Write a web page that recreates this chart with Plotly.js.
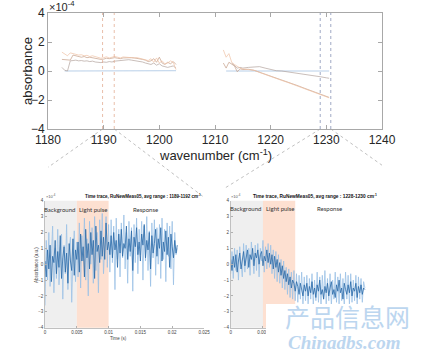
<!DOCTYPE html>
<html>
<head>
<meta charset="utf-8">
<script src="https://cdn.plot.ly/plotly-3.0.1.min.js"></script>
<style>html,body{margin:0;padding:0;background:#fff;}#chart{width:431px;height:353px;}</style>
</head>
<body>
<div id="chart"></div>
<script>
// ---------- top spectrum data (absorbance, units of 1e-4) ----------
const wavenumber = [1182.5,1183,1183.5,1184,1184.5,1185,1185.5,1186,1186.5,1187,1187.5,1188,1188.5,1189,1189.5,1190,1190.5,1191,1191.5,1192,1192.5,1193,1193.5,1194,1194.5,1195,1195.5,1196,1196.5,1197,1197.5,1198,1198.5,1199,1199.5,1200,1200.5,1201,1201.5,1202,1202.5,1203,
  1207,
  1211.5,1212,1212.5,1213,1213.5,1214,1214.5,1215,1216,1217,1218,1219,1220,1221,1222,1223,1224,1225,1226,1227,1228,1229,1230,1230.5];

const specOrange = [1.3,1.15,1.05,1.25,1.2,1.15,1.1,1.12,1.05,1.08,1.0,1.05,0.98,0.95,0.88,0.92,0.98,0.9,0.95,1.0,0.95,0.9,0.97,0.95,0.92,0.95,0.9,0.92,0.88,0.85,0.78,0.72,0.85,0.6,0.9,0.55,0.7,0.5,0.55,0.7,0.6,0.1,
  null,
  1.45,0.95,1.2,0.6,0.45,0.3,0.2,0.15,0.1,0.05,-0.1,-0.25,-0.4,-0.52,-0.65,-0.78,-0.92,-1.05,-1.2,-1.35,-1.5,-1.62,-1.78,-1.85];

const specBrown = [0.8,0.8,0.8,0.75,1.1,1.05,1.0,0.95,1.0,0.92,0.95,0.9,0.88,0.85,0.8,0.82,0.88,0.85,0.9,0.92,0.88,0.85,0.9,0.92,0.95,0.92,0.9,0.88,0.85,0.8,0.75,0.65,0.7,0.85,0.6,0.95,0.55,0.45,0.6,0.5,0.65,0.45,
  null,
  0.55,0.2,0.6,0.5,0.35,-0.05,0.15,0.1,0.12,0.05,-0.08,-0.22,-0.38,-0.5,-0.63,-0.76,-0.9,-1.03,-1.18,-1.32,-1.48,-1.6,-1.75,-1.82];

const specGrey = [0.25,0.05,0.0,0.7,0.72,0.75,0.7,0.72,0.68,0.7,0.65,0.68,0.62,0.6,0.58,0.62,0.6,0.65,0.62,0.68,0.7,0.72,0.75,0.72,0.78,0.75,0.72,0.7,0.68,0.62,0.55,0.5,0.45,0.55,0.4,0.5,0.35,0.3,0.25,0.3,0.35,0.2,
  null,
  null,null,null,0.55,0.4,0.2,0.25,0.2,0.25,0.28,0.3,0.2,0.1,0.02,0.0,-0.05,-0.1,-0.15,-0.22,-0.28,-0.35,-0.4,-0.47,-0.5];

const specBlue = [null,0,0,0,0,0,0,0,0,0,0,0,0,0,0,0,0,0,0,0,0,0,0,0,0,0,0,0,0,0,0,0,0,0,0.01,0.02,0.02,0.02,0.02,0.02,0.02,0.02,
  null,
  null,0,0,0,0,0,0,0,0,0,0,0,0,0,0,0,0,0,0,0,0,0,0,0];

// averaging windows marked on the spectrum (cm^-1)
const windowLeft = [1189.8, 1191.9];
const windowRight = [1228.9, 1230.8];

// ---------- time traces (units of 1e-4) ----------
const timeStep = 0.0002;
const traceLeftEnvelope = [-2.6,1.5,-1.0,2.0,-1.4,0.8,2.4,-1.8,1.0,-0.9,2.2,-1.3,0.6,1.9,-2.2,1.2,-0.6,2.5,-1.6,0.9,1.7,-2.4,0.5,2.1,-1.1,1.4,
  -0.8,2.6,-1.5,1.8,0.2,2.9,-1.0,1.6,-2.0,2.7,0.0,2.3,-1.2,3.0,-0.4,2.0,-1.8,2.8,0.3,3.2,-0.6,1.9,3.0,-0.2,2.5,
  -0.5,2.8,0.1,2.4,-1.6,2.9,0.3,2.2,-0.8,2.6,0.4,3.1,-0.3,2.0,-1.2,2.7,0.5,2.3,-1.7,2.5,0.1,2.9,-0.6,2.2,0.6,2.7,-1.0,2.4,0.2,3.0,-0.4,2.1,-1.4,2.6,0.4,2.8,-0.7,2.3,0.0,2.5,-0.9,2.9,0.3,2.2,-1.1,2.6,0.5,2.4,-0.3,2.7,-1.3,2.0,0.6,1.0];
const traceLeftMean = [0.2,-0.8,0.9,-0.3,1.2,-1.1,0.5,0.1,1.5,-0.6,0.8,-0.2,1.8,-0.9,0.4,1.1,-0.5,0.7,-1.2,1.3,0.2,-0.4,1.6,-0.7,0.9,0.3,
  1.4,-0.5,1.9,0.2,1.1,-0.8,2.2,0.4,1.3,-0.3,2.0,0.6,1.5,-0.9,2.4,0.8,1.2,0.1,2.1,0.5,1.7,0.3,2.6,0.9,1.4,
  0.6,1.8,0.4,2.0,0.9,1.5,-0.2,1.9,0.7,2.2,0.5,1.3,1.0,2.4,0.3,1.6,0.8,2.1,-0.4,1.7,1.1,2.3,0.6,1.4,0.2,1.9,1.2,2.5,0.4,1.5,0.9,2.0,-0.3,1.8,0.7,1.3,2.2,0.5,1.6,1.0,2.3,0.2,1.4,0.8,2.1,0.6,1.7,-0.2,1.9,1.1,0.4,1.5,0.7,1.2];
const traceRightEnvelope = [-0.6,0.8,-0.9,1.0,-0.4,0.9,-1.0,1.1,0.0,-0.8,1.3,-0.5,1.2,-0.3,1.0,-0.7,1.4,0.1,-0.6,1.2,-0.4,1.3,-0.8,1.0,0.2,1.5,-0.5,1.1,-0.3,1.3,
  -0.2,1.2,-0.6,0.9,-0.9,0.8,-1.1,0.6,-1.2,0.3,-1.5,0.2,-1.6,-0.2,-1.9,-0.3,-2.1,-0.5,-2.2,-0.4,-2.3,-0.6,-2.4,-0.7,-2.2,-0.5,-2.5,-0.8,
  -2.3,-0.7,-2.5,-0.9,-2.2,-0.6,-2.6,-1.0,-2.3,-0.5,-2.4,-0.8,-2.6,-0.7,-2.2,-0.4,-2.5,-0.9,-2.3,-0.6,-2.6,-1.0,-2.2,-0.5,-2.4,-0.8,-2.5,-0.6,-2.3,-0.9,-2.6,-0.5,-2.2,-0.7,-2.5,-0.6,-2.4,-1.0,-2.3,-0.7,-2.6,-0.8,-2.2,-0.9,-2.4,-1.1,-1.5];
const traceRightMean = [0.3,-0.4,0.5,-0.2,0.6,-0.5,0.2,0.7,-0.3,0.4,0.8,-0.1,0.5,0.9,-0.2,0.6,0.3,1.0,-0.1,0.7,0.4,0.9,0.0,0.6,0.8,-0.1,0.5,0.2,0.9,0.1,
  0.7,0.0,0.6,-0.3,0.5,-0.2,0.3,-0.5,0.1,-0.7,-0.1,-0.9,-0.4,-1.1,-0.6,-1.3,-0.8,-1.5,-1.0,-1.2,-1.7,-1.1,-1.4,-1.9,-1.2,-1.6,-2.0,-1.3,
  -1.7,-1.2,-2.0,-1.4,-1.8,-1.1,-1.9,-1.5,-2.1,-1.3,-1.7,-1.0,-1.9,-1.6,-2.2,-1.4,-1.8,-1.2,-2.0,-1.5,-1.1,-1.9,-1.6,-2.1,-1.3,-1.7,-1.0,-1.8,-1.5,-2.2,-1.2,-1.6,-1.9,-1.3,-1.8,-1.1,-2.0,-1.5,-1.7,-1.2,-2.1,-1.4,-1.8,-1.3,-1.9,-1.5,-1.6];

// phases of the experiment (s)
const phaseNames = ['Background', 'Light pulse', 'Response'];
const backgroundSpan = [0, 0.005];
const pulseSpan = [0.005, 0.01];

const xTicksTop = [1180,1190,1200,1210,1220,1230,1240];
const yTicksTop = [-4,-2,0,2,4];
const xTicksTime = [0,0.005,0.01,0.015,0.02,0.025];
const xTickTextTime = ['0','0.005','0.01','0.015','0.02','0.025'];
const xTickTextTimeHidden = ['0','0.005','','','',''];  // right inset: the rest is covered by the watermark
const yTicksTime = [-4,-3,-2,-1,0,1,2,3,4];

const titleLeft = 'Time trace, RuNewMeas05, avg range : 1189-1192 cm<sup>-1</sup>';
const titleRight = 'Time trace, RuNewMeas05, avg range : 1228-1230 cm<sup>-1</sup>';

// ---------- build ----------
const W = 431, H = 353;
const px = v => v / W;
const py = v => 1 - v / H;
const timesOf = arr => arr.map((_, i) => +(i * timeStep).toFixed(6));

const traces = [
  {x: wavenumber, y: specBlue, mode: 'lines', line: {color: '#a6c3e2', width: 0.8}, xaxis: 'x', yaxis: 'y', connectgaps: false},
  {x: wavenumber, y: specGrey, mode: 'lines', line: {color: '#b2a29c', width: 0.7}, xaxis: 'x', yaxis: 'y', connectgaps: false},
  {x: wavenumber, y: specBrown, mode: 'lines', line: {color: '#c49e86', width: 0.7}, xaxis: 'x', yaxis: 'y', connectgaps: false},
  {x: wavenumber, y: specOrange, mode: 'lines', line: {color: '#efc2a5', width: 0.7}, xaxis: 'x', yaxis: 'y', connectgaps: false},
  {x: timesOf(traceLeftEnvelope), y: traceLeftEnvelope, mode: 'lines', line: {color: '#9cc2e6', width: 0.8}, xaxis: 'x2', yaxis: 'y2'},
  {x: timesOf(traceLeftMean), y: traceLeftMean, mode: 'lines', line: {color: '#2a69a8', width: 0.8}, xaxis: 'x2', yaxis: 'y2'},
  {x: timesOf(traceRightEnvelope), y: traceRightEnvelope, mode: 'lines', line: {color: '#9cc2e6', width: 0.8}, xaxis: 'x3', yaxis: 'y3'},
  {x: timesOf(traceRightMean), y: traceRightMean, mode: 'lines', line: {color: '#2a69a8', width: 0.8}, xaxis: 'x3', yaxis: 'y3'}
];

const baseFont = 'Liberation Sans, Arial, sans-serif';
const topAxis = {
  showline: true, mirror: 'ticks', linecolor: '#a8a8a8', linewidth: 1,
  ticks: 'inside', ticklen: 4, tickcolor: '#a8a8a8',
  showgrid: false, zeroline: false,
  tickfont: {size: 12, color: '#262626', family: baseFont}
};
const timeAxisX = {
  range: [0, 0.025], tickvals: xTicksTime, ticktext: xTickTextTime,
  showline: true, linecolor: '#b0b0b0', linewidth: 0.8, ticks: 'inside', ticklen: 2, tickcolor: '#b0b0b0',
  showgrid: false, zeroline: false, tickfont: {size: 4.5, color: '#444', family: baseFont}
};
const timeAxisY = {
  range: [-4, 4], tickvals: yTicksTime,
  showline: true, linecolor: '#b0b0b0', linewidth: 0.8, ticks: 'inside', ticklen: 2, tickcolor: '#b0b0b0',
  showgrid: false, zeroline: false, tickfont: {size: 4.5, color: '#444', family: baseFont}
};
const rightTicks = {
  range: [-4, 4], tickvals: yTicksTime, side: 'right', showline: false,
  ticks: 'inside', ticklen: 2, tickcolor: '#c8c8c8', showticklabels: false,
  showgrid: false, zeroline: false
};

const shapes = [];
// averaging windows in spectrum + connector lines to the insets
const connectorEnds = [[1173.7, 192], [1208.2, 198], [1211.8, 188], [1246.3, 190]];
[windowLeft[0], windowLeft[1], windowRight[0], windowRight[1]].forEach((w, i) => {
  const col = i < 2 ? '#e0a486' : '#7483aa';
  shapes.push({type: 'line', xref: 'x', yref: 'y domain', x0: w, x1: w, y0: 0, y1: 1,
    line: {color: col, width: 0.7, dash: 'dot'}});
  shapes.push({type: 'line', xref: 'x', yref: 'paper', x0: w, y0: py(129), x1: connectorEnds[i][0], y1: py(connectorEnds[i][1]),
    line: {color: '#a5a5a5', width: 0.7, dash: 'dot'}});
});
// phase shading
[['x2', 'y2 domain'], ['x3', 'y3 domain']].forEach(([xr, yr]) => {
  shapes.push({type: 'rect', xref: xr, yref: yr, x0: backgroundSpan[0], x1: backgroundSpan[1], y0: 0, y1: 1,
    fillcolor: '#efefef', line: {width: 0}, layer: 'below'});
  shapes.push({type: 'rect', xref: xr, yref: yr, x0: pulseSpan[0], x1: pulseSpan[1], y0: 0, y1: 1,
    fillcolor: '#fde0d1', line: {width: 0}, layer: 'below'});
});
// watermark backing
shapes.push({type: 'rect', xref: 'paper', yref: 'paper', x0: px(266), x1: 1, y0: 0, y1: py(304),
  fillcolor: '#ffffff', line: {width: 0}, layer: 'above'});

const ann = (x, y, text, size, opts = {}) => Object.assign({
  xref: 'paper', yref: 'paper', x: px(x), y: py(y), text: text, showarrow: false,
  font: {size: size, color: '#262626', family: baseFont}, xanchor: 'center', yanchor: 'middle'
}, opts);

const labelFont = 'Lato, Open Sans, sans-serif';
const annotations = [
  ann(47, 6, '×10<sup>-4</sup>', 11, {xanchor: 'left'}),
  ann(27, 71, 'absorbance', 13, {textangle: -90}),
  ann(215, 155, 'wavenumber (cm<sup>-1</sup>)', 13),
  ann(143, 196, '<b>' + titleLeft + '</b>', 4.5, {font: {size: 4.5, color: '#111', family: baseFont}}),
  ann(315, 196, '<b>' + titleRight + '</b>', 4.8, {font: {size: 4.8, color: '#111', family: baseFont}}),
  ann(44, 196, '×10<sup>-4</sup>', 4, {xanchor: 'left', font: {size: 4, color: '#555', family: baseFont}}),
  ann(229, 196, '×10<sup>-4</sup>', 4, {xanchor: 'left', font: {size: 4, color: '#555', family: baseFont}}),
  ann(59, 209, phaseNames[0], 6, {font: {size: 6, color: '#333', family: labelFont}}),
  ann(93, 209, phaseNames[1], 6, {font: {size: 6, color: '#333', family: labelFont}}),
  ann(145, 209, phaseNames[2], 6, {font: {size: 6, color: '#333', family: labelFont}}),
  ann(246, 208, phaseNames[0], 6, {font: {size: 6, color: '#333', family: labelFont}}),
  ann(280, 208, phaseNames[1], 6, {font: {size: 6, color: '#333', family: labelFont}}),
  ann(329, 208, phaseNames[2], 6, {font: {size: 6, color: '#333', family: labelFont}}),
  ann(36, 265, 'Absorbance (a.u.)', 4.5, {textangle: -90, font: {size: 4.5, color: '#444', family: baseFont}}),
  ann(119, 338, 'Time (s)', 4.5, {font: {size: 4.5, color: '#444', family: baseFont}}),
  ann(347, 316, '产品信息网', 25, {font: {size: 25, color: '#bcd6ef', family: 'Noto Sans CJK SC'}}),
  ann(344, 342, '<i><b>Chinadbs.com</b></i>', 19, {font: {size: 19, color: '#bcd6ef', family: 'Liberation Serif, serif'}})
];

const layout = {
  width: W, height: H, margin: {l: 0, r: 0, t: 0, b: 0},
  paper_bgcolor: '#fff', plot_bgcolor: 'rgba(0,0,0,0)', showlegend: false,
  xaxis: Object.assign({}, topAxis, {domain: [px(48), px(382)], range: [1180, 1240], tickvals: xTicksTop, anchor: 'y'}),
  yaxis: Object.assign({}, topAxis, {domain: [py(129), py(13)], range: [-4, 4], tickvals: yTicksTop, anchor: 'x'}),
  xaxis2: Object.assign({}, timeAxisX, {domain: [px(45), px(204)], anchor: 'y2'}),
  yaxis2: Object.assign({}, timeAxisY, {domain: [py(327.7), py(200.7)], anchor: 'x2'}),
  xaxis3: Object.assign({}, timeAxisX, {domain: [px(230.7), px(392)], anchor: 'y3', ticktext: xTickTextTimeHidden}),
  yaxis3: Object.assign({}, timeAxisY, {domain: [py(327.7), py(200.7)], anchor: 'x3'}),
  yaxis4: Object.assign({}, rightTicks, {overlaying: 'y2', anchor: 'x2'}),
  yaxis5: Object.assign({}, rightTicks, {overlaying: 'y3', anchor: 'x3'}),
  shapes: shapes,
  annotations: annotations
};

Plotly.newPlot('chart', traces, layout, {staticPlot: true, displayModeBar: false});
</script>
</body>
</html>
